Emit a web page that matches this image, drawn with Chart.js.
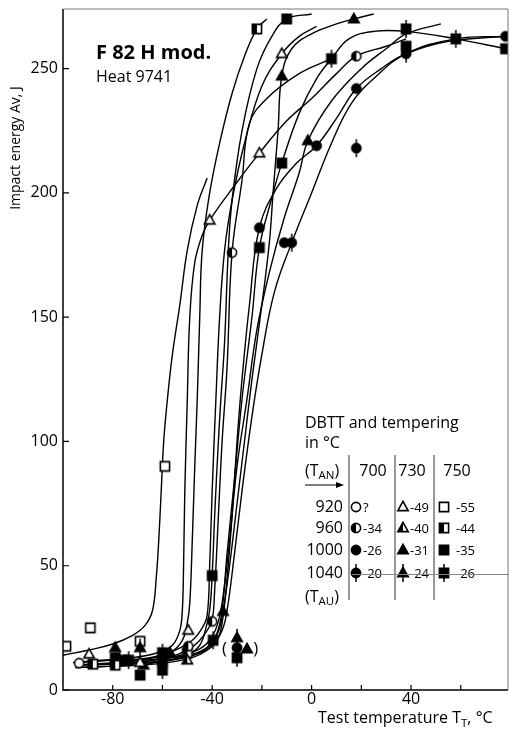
<!DOCTYPE html>
<html>
<head>
<meta charset="utf-8">
<script src="https://cdn.jsdelivr.net/npm/chart.js@4.4.1/dist/chart.umd.min.js"></script>
<style>
  html, body { margin: 0; padding: 0; background: #fff; }
  #wrap { width: 509px; height: 729px; }
</style>
</head>
<body>
<div id="wrap"><canvas id="chart" width="509" height="729"></canvas></div>
<script>
// axis ticks
const xTickValues = [-80, -60, -40, -20, 0, 20, 40, 60];
const xTickLabels = [-80, -40, 0, 40];
const yTickValues = [0, 50, 100, 150, 200, 250];

// legend table
const tanRows = ['920', '960', '1000', '1040'];
const temperCols = ['700', '730', '750'];
const dbtt700 = ['?', '-34', '-26', '-20'];
const dbtt730 = ['-49', '-40', '-31', '-24'];
const dbtt750 = ['-55', '-44', '-35', '-26'];

// measured points [T, Av]
const p700_920 = [[-93.5, 10.8]];
const p700_960 = [[-49.6, 17.6], [-40, 27.6], [-32, 176], [18, 255]];
const p700_1000 = [[-21, 186], [-11, 180], [2, 219], [18, 242], [78, 263]];
const p700_1040 = [[-30, 17], [-8, 180], [18, 218], [38, 256]];
const p730_920 = [[-89.5, 14.4], [-69, 11], [-49.6, 24], [-41, 189], [-21, 216], [-12, 256]];
const p730_960 = [[-50, 12]];
const p730_1000 = [[-79, 17], [-67.6, 10], [-57, 15], [-35.6, 31.6], [-26, 16.5], [-12, 247], [-1.5, 221], [17, 270]];
const p730_1040 = [[-69, 17], [-30, 21]];
const p750_920 = [[-98.8, 17.6], [-89, 25], [-69, 19.6], [-59, 90]];
const p750_960 = [[-88, 10.4], [-79, 10], [-50, 15], [-22, 266]];
const p750_1000 = [[-79, 13], [-75.6, 12], [-69, 6], [-60, 11.6], [-40, 46], [-21, 178], [-12, 212], [-10, 270], [38, 259], [78, 258]];
const p750_1040 = [[-73.6, 12], [-60, 8], [-60, 15], [-39.6, 20], [-30, 13], [8, 254], [38, 266], [58, 262]];

// fitted curves [T, Av]
const c750_920 = [[-100, 14], [-90, 16], [-80, 18.5], [-72, 22], [-67, 26], [-64, 32], [-62.5, 45], [-61.5, 60], [-60.5, 80], [-59.5, 100], [-58, 117], [-56, 135], [-53, 155], [-50, 177], [-46, 195], [-42, 206]];
const c730_920 = [[-96, 11], [-85, 12], [-72, 13], [-62, 15], [-56, 18], [-53, 24], [-52, 32], [-51.5, 50], [-51, 80], [-50, 117], [-49, 150], [-47, 172], [-44, 183], [-41, 189], [-31, 203], [-21, 216], [-10, 229], [0, 238], [10, 248], [18, 255], [30, 259], [38, 262]];
const c750_960 = [[-95, 10], [-80, 11], [-66, 12.5], [-57, 15], [-52, 20], [-50, 27], [-49, 35], [-48, 60], [-47, 90], [-46, 117], [-45, 150], [-44, 177], [-41, 200], [-37, 220], [-32, 240], [-27, 255], [-22, 266], [-18, 270]];
const c730_960 = [[-95, 11], [-80, 12], [-65, 13], [-55, 16], [-48, 20], [-44, 25], [-42, 30], [-41, 50], [-40, 80], [-38.5, 117], [-37, 150], [-35, 177], [-32, 197], [-27, 220], [-20, 243], [-12, 256], [-5, 263], [2, 267]];
const c750_1000 = [[-95, 9], [-82, 9.5], [-70, 10], [-60, 11.5], [-50, 14], [-45, 18], [-42.5, 25], [-41, 32], [-40, 46], [-39, 70], [-37.5, 100], [-36.5, 117], [-35, 140], [-33.5, 177], [-32, 197], [-28, 225], [-22, 250], [-16, 263], [-10, 270], [0, 272]];
const c700_960 = [[-95, 10], [-82, 10.5], [-70, 11], [-58, 13], [-50, 16], [-45, 20], [-42, 24], [-40, 28], [-39, 40], [-37.5, 70], [-36, 100], [-34, 130], [-32, 176], [-28, 205], [-25, 228], [-18, 238], [-5, 248], [8, 254]];
const c730_1000 = [[-95, 11], [-80, 12], [-68, 12], [-56, 13], [-46, 15], [-40, 19], [-37, 25], [-35.6, 31.6], [-33, 50], [-30, 75], [-27, 100], [-24, 125], [-20, 155], [-17, 180], [-15.5, 200], [-13.5, 225], [-12, 247], [-8, 258], [0, 264], [10, 268], [17, 270], [25, 272]];
const c700_1000 = [[-95, 9], [-82, 9.5], [-70, 10], [-58, 11], [-48, 13], [-42, 16], [-38, 20], [-36, 27], [-34, 45], [-32, 70], [-30, 100], [-28, 125], [-25, 155], [-21, 186], [-14, 202], [-6, 212], [2, 219], [10, 230], [18, 242], [28, 250], [38, 256], [55, 261], [78, 263]];
const c750_1040 = [[-92, 10], [-80, 10.5], [-68, 11], [-56, 12], [-46, 14.5], [-41, 18], [-38, 23], [-36, 32], [-34, 55], [-31, 85], [-28, 117], [-24, 150], [-21, 178], [-16, 198], [-12, 212], [-5, 232], [2, 246], [8, 254], [15, 262], [25, 265], [38, 265], [58, 262], [78, 258]];
const c730_1040 = [[-90, 10], [-78, 11], [-66, 12], [-55, 13.5], [-46, 16], [-41, 20], [-38, 26], [-36, 35], [-33, 60], [-30, 90], [-26, 117], [-22, 145], [-17, 168], [-11, 190], [-5, 208], [-1.5, 221], [8, 237], [20, 250], [30, 258], [38, 264], [52, 268]];
const c700_1040 = [[-90, 10], [-78, 10.5], [-66, 11], [-55, 12.5], [-46, 14.5], [-40, 18], [-36, 24], [-34, 32], [-31, 55], [-28, 80], [-24, 110], [-20, 135], [-15, 160], [-8, 180], [0, 200], [8, 220], [16, 236], [25, 246], [38, 256], [58, 262], [78, 263]];

const FONT = "'Open Sans', 'DejaVu Sans', sans-serif";

function makeMarker(shape, fill) {
    const c = document.createElement('canvas');
    c.width = 14; c.height = 22;
    const g = c.getContext('2d');
    const cx = 7, cy = 11;
    function path() {
        g.beginPath();
        if (shape === 'circle') {
            g.arc(cx, cy, 4.6, 0, Math.PI * 2);
        } else if (shape === 'triangle') {
            g.moveTo(cx, cy - 5.6);
            g.lineTo(cx + 5.2, cy + 3.6);
            g.lineTo(cx - 5.2, cy + 3.6);
            g.closePath();
        } else {
            g.rect(cx - 4.6, cy - 4.6, 9.2, 9.2);
        }
    }
    g.lineWidth = 1.6;
    g.strokeStyle = '#000';
    path();
    g.fillStyle = (fill === 'open' || fill === 'half') ? '#fff' : '#000';
    g.fill();
    if (fill === 'half') {
        g.save();
        g.beginPath();
        g.rect(0, 0, cx, c.height);
        g.clip();
        path();
        g.fillStyle = '#000';
        g.fill();
        g.restore();
    }
    path();
    g.stroke();
    if (fill === 'line') {
        g.beginPath();
        g.moveTo(cx, cy - 9);
        g.lineTo(cx, cy + 9);
        g.lineWidth = 1.5;
        g.stroke();
    }
    return c;
}

const shapes = ['circle', 'triangle', 'rect'];
const fills = ['open', 'half', 'full', 'line'];
const markers = shapes.map(s => fills.map(f => makeMarker(s, f)));

const pointSets = [
    [p700_920, p700_960, p700_1000, p700_1040],
    [p730_920, p730_960, p730_1000, p730_1040],
    [p750_920, p750_960, p750_1000, p750_1040]
];
const curves = [c750_920, c730_920, c750_960, c730_960, c750_1000, c700_960,
                c730_1000, c700_1000, c750_1040, c730_1040, c700_1040];

const toXY = arr => arr.map(p => ({ x: p[0], y: p[1] }));

const datasets = [];
pointSets.forEach((row, i) => {
    row.forEach((pts, j) => {
        datasets.push({
            label: temperCols[i] + '/' + tanRows[j],
            data: toXY(pts),
            pointStyle: markers[i][j],
            pointRadius: 5,
            showLine: false,
            order: 0
        });
    });
});
curves.forEach(cv => {
    datasets.push({
        data: toXY(cv),
        showLine: true,
        borderColor: '#000',
        borderWidth: 1.4,
        pointRadius: 0,
        tension: 0.4,
        fill: false,
        order: 1
    });
});

function subText(ctx, parts, x, y, size) {
    // parts: [text, isSub]
    parts.forEach(p => {
        const s = p[1] ? size * 0.72 : size;
        ctx.font = s + 'px ' + FONT;
        ctx.fillText(p[0], x, y + (p[1] ? size * 0.28 : 0));
        x += ctx.measureText(p[0]).width;
    });
    return x;
}

function noPad(s) {
    s.paddingTop = 0; s.paddingBottom = 0; s.paddingLeft = 0; s.paddingRight = 0;
}

const decor = {
    id: 'decor',
    beforeDraw(chart) {
        const ctx = chart.ctx;
        ctx.save();
        ctx.fillStyle = '#fff';
        ctx.fillRect(0, 0, chart.width, chart.height);
        ctx.restore();
    },
    afterDraw(chart) {
        const ctx = chart.ctx;
        const a = chart.chartArea;
        const xs = chart.scales.x, ys = chart.scales.y;
        ctx.save();
        // frame
        ctx.strokeStyle = '#000';
        ctx.lineWidth = 1.5;
        ctx.beginPath();
        ctx.moveTo(a.left, a.top); ctx.lineTo(a.left, a.bottom); ctx.lineTo(a.right, a.bottom);
        ctx.stroke();
        ctx.lineWidth = 1;
        ctx.strokeStyle = '#777';
        ctx.beginPath();
        ctx.moveTo(a.left, a.top); ctx.lineTo(a.right, a.top); ctx.lineTo(a.right, a.bottom);
        ctx.stroke();
        // inward ticks
        ctx.strokeStyle = '#000';
        ctx.lineWidth = 1.2;
        ctx.beginPath();
        xTickValues.forEach(v => {
            const px = xs.getPixelForValue(v);
            ctx.moveTo(px, a.bottom); ctx.lineTo(px, a.bottom - 5);
        });
        yTickValues.forEach(v => {
            const py = ys.getPixelForValue(v);
            ctx.moveTo(a.left, py); ctx.lineTo(a.left + 6, py);
        });
        ctx.stroke();

        ctx.fillStyle = '#000';
        ctx.textBaseline = 'alphabetic';
        ctx.textAlign = 'left';
        // title
        ctx.font = 'bold 20px ' + FONT;
        ctx.fillText('F 82 H mod.', 96, 59);
        ctx.font = '16px ' + FONT;
        ctx.fillText('Heat 9741', 96, 82);

        // axis titles
        ctx.save();
        ctx.translate(20, 148);
        ctx.rotate(-Math.PI / 2);
        ctx.textAlign = 'center';
        ctx.font = '14px ' + FONT;
        ctx.fillText('Impact energy Av, J', 0, 0);
        ctx.restore();
        subText(ctx, [['Test temperature T', false], ['T', true], [', °C', false]], 318, 723, 16);

        // brackets round the point group
        ctx.font = '17px ' + FONT;
        ctx.textAlign = 'center';
        ctx.textBaseline = 'middle';
        ctx.fillText('(', xs.getPixelForValue(-35), ys.getPixelForValue(16.5));
        ctx.fillText(')', xs.getPixelForValue(-22.5), ys.getPixelForValue(16.5));

        // legend table
        ctx.textAlign = 'left';
        ctx.font = '16px ' + FONT;
        ctx.fillText('DBTT and tempering', 305, 423);
        ctx.fillText('in °C', 305, 443);
        subText(ctx, [['(T', false], ['AN', true], [')', false]], 305, 471, 16);
        subText(ctx, [['(T', false], ['AU', true], [')', false]], 305, 597, 16);
        // arrow
        ctx.lineWidth = 1.2;
        ctx.beginPath();
        ctx.moveTo(305, 485); ctx.lineTo(341, 485);
        ctx.stroke();
        ctx.beginPath();
        ctx.moveTo(344, 485); ctx.lineTo(336, 482); ctx.lineTo(336, 488); ctx.closePath();
        ctx.fill();
        // column heads
        ctx.font = '16px ' + FONT;
        ctx.textAlign = 'center';
        const colX = [373, 412, 457];
        temperCols.forEach((t, i) => ctx.fillText(t, colX[i], 471));
        // rows
        const rowY = [507, 528, 550, 573];
        ctx.textAlign = 'right';
        tanRows.forEach((r, j) => ctx.fillText(r, 343, rowY[j]));
        const markX = [356, 403, 444];
        const textX = [363, 410, 456];
        const vals = [dbtt700, dbtt730, dbtt750];
        ctx.textAlign = 'left';
        ctx.font = '13px ' + FONT;
        for (let i = 0; i < 3; i++) {
            for (let j = 0; j < 4; j++) {
                const m = markers[i][j];
                ctx.drawImage(m, markX[i] - m.width / 2, rowY[j] - m.height / 2);
                ctx.fillText(vals[i][j], textX[i], rowY[j] + 1);
            }
        }
        // dividers
        ctx.strokeStyle = '#333';
        ctx.lineWidth = 1;
        ctx.beginPath();
        [349, 395, 434].forEach(x => { ctx.moveTo(x, 455); ctx.lineTo(x, 600); });
        ctx.stroke();
        ctx.strokeStyle = '#888';
        ctx.beginPath();
        ctx.moveTo(352, 574.5); ctx.lineTo(509, 574.5);
        ctx.stroke();
        ctx.restore();
    }
};

new Chart(document.getElementById('chart'), {
    type: 'scatter',
    data: { datasets: datasets },
    options: {
        responsive: false,
        animation: false,
        devicePixelRatio: 1,
        layout: { autoPadding: false, padding: { top: 9, right: 1, left: 0, bottom: 0 } },
        plugins: { legend: { display: false }, tooltip: { enabled: false } },
        scales: {
            x: {
                type: 'linear', min: -100, max: 79,
                grid: { display: false, drawTicks: false, tickLength: 0 },
                border: { display: false },
                afterBuildTicks: s => { s.ticks = xTickValues.map(v => ({ value: v })); },
                afterFit: s => { s.height = 39; noPad(s); },
                ticks: {
                    padding: 0,
                    color: '#000',
                    font: { family: FONT, size: 16 },
                    maxRotation: 0,
                    autoSkip: false,
                    callback: v => xTickLabels.includes(v) ? String(v) : ''
                }
            },
            y: {
                type: 'linear', min: 0, max: 274,
                grid: { display: false, drawTicks: false, tickLength: 0 },
                border: { display: false },
                afterBuildTicks: s => { s.ticks = yTickValues.map(v => ({ value: v })); },
                afterFit: s => { s.width = 63; noPad(s); },
                ticks: {
                    padding: 5,
                    color: '#000',
                    font: { family: FONT, size: 16 },
                    callback: v => String(v)
                }
            }
        }
    },
    plugins: [decor]
});
</script>
</body>
</html>
